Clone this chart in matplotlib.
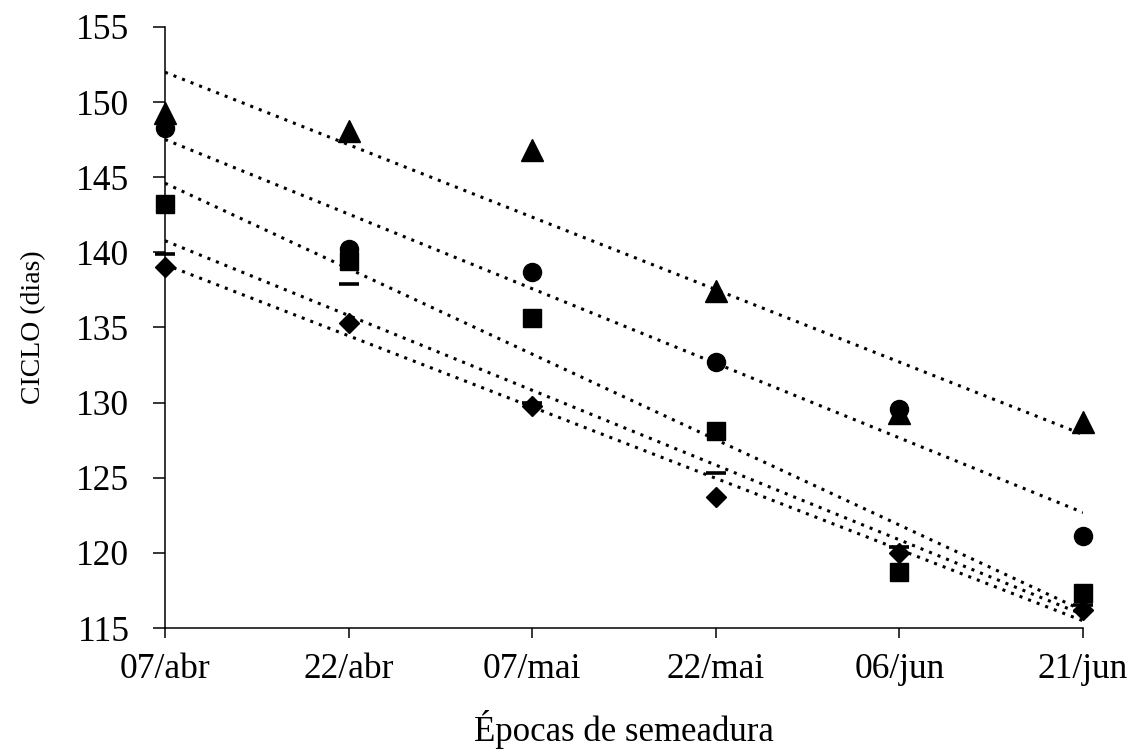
import numpy as np
from matplotlib import pyplot as plt

plt.rcParams['font.family'] = ['Liberation Serif', 'DejaVu Serif']

epocas = ['07/abr', '22/abr', '07/mai', '22/mai', '06/jun', '21/jun']
triangulo = [149.3, 148.1, 146.8, 137.4, 129.3, 128.7]
circulo = [148.3, 140.2, 138.7, 132.7, 129.6, 121.1]
quadrado = [143.2, 139.4, 135.6, 128.1, 118.7, 117.3]
traco = [139.9, 137.9, 130.0, 125.3, 120.4, 116.5]
losango = [139.0, 135.3, 129.8, 123.7, 120.0, 116.2]

series = [
  (triangulo, '^', 16, 1.0),
  (circulo, 'o', 13, 1.0),
  (quadrado, 's', 13, 1.0),
  (traco, '_', 14, 2.6),
  (losango, 'D', 10, 1.0),
]

fig = plt.figure(figsize=(11.31, 7.54), dpi=100)
ax = fig.add_axes([0.1459, 0.1671, 0.8117, 0.7971])

x = np.arange(len(epocas))
for vals, mk, ms, mew in series:
  # linear trend of each series
  a, b = np.polyfit(x, vals, 1)
  ax.plot(x, a * x + b, color='black', lw=2.2, linestyle=(0, (1, 2.0)), zorder=2)
  ax.plot(x, vals, linestyle='none', marker=mk, markersize=ms, color='black',
          markeredgewidth=mew, clip_on=False, zorder=3)

ax.set_xlim(0, 5)
ax.set_ylim(115, 155)
ax.set_xticks(x)
ax.set_xticklabels(epocas)
ax.set_yticks(np.arange(115, 156, 5))

for side in ['top', 'right']:
  ax.spines[side].set_visible(False)
for side in ['left', 'bottom']:
  ax.spines[side].set_linewidth(1.1)

ax.tick_params(axis='y', direction='out', length=8.6, width=1.1, labelsize=25.5, pad=17)
ax.tick_params(axis='x', direction='out', length=7, width=1.1, labelsize=25.5, pad=11)

ax.set_ylabel('CICLO (dias)', fontsize=20, labelpad=22)
ax.set_xlabel('Épocas de semeadura', fontsize=25, labelpad=17)

fig.savefig('out.png', dpi=100)
